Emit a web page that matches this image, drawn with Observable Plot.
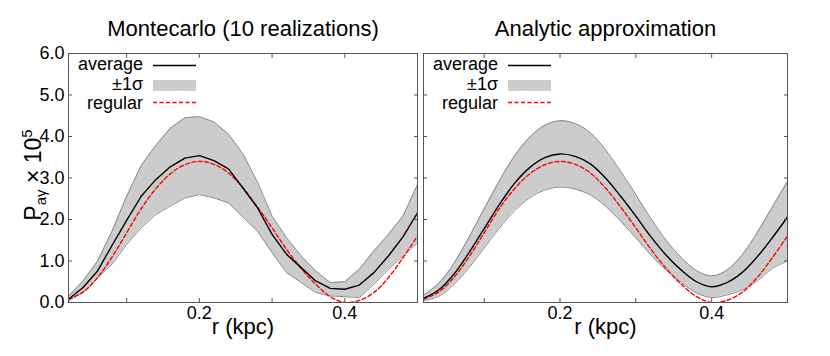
<!DOCTYPE html>
<html><head><meta charset="utf-8">
<script src="https://cdn.jsdelivr.net/npm/d3@7"></script>
<script src="https://cdn.jsdelivr.net/npm/@observablehq/plot@0.6"></script>
<style>
body{margin:0;background:#fff;}
#chart{position:relative;width:830px;height:356px;overflow:hidden;background:#fff;font-family:"Liberation Sans",Arial,sans-serif;}
#chart svg{position:absolute;left:0;top:0;}
</style></head><body><div id="chart"></div>
<script>
// ---- data ----
const r = [0.02,0.04,0.06,0.08,0.10,0.12,0.14,0.16,0.18,0.20,0.22,0.24,0.26,0.28,0.30,0.32,0.34,0.36,0.38,0.40,0.42,0.44,0.46,0.48,0.50];
const mcAvg = [0.08,0.36,0.76,1.38,1.98,2.56,2.96,3.27,3.48,3.54,3.42,3.22,2.76,2.28,1.64,1.16,0.84,0.52,0.34,0.32,0.42,0.72,1.12,1.58,2.16];
const mcHi  = [0.15,0.52,1.00,1.72,2.56,3.30,3.78,4.20,4.45,4.48,4.35,4.06,3.58,2.90,2.08,1.56,1.12,0.76,0.48,0.50,0.80,1.24,1.64,2.08,2.84];
const mcLo  = [0.04,0.24,0.60,0.92,1.40,1.80,2.12,2.32,2.52,2.60,2.52,2.40,2.06,1.72,1.20,0.72,0.48,0.24,0.16,0.14,0.12,0.44,0.80,1.12,1.44];
const regular = [0.08,0.25,0.60,1.10,1.68,2.26,2.74,3.10,3.32,3.40,3.33,3.12,2.76,2.30,1.80,1.28,0.82,0.44,0.14,0.00,0.05,0.24,0.60,1.08,1.60];
const anAvg = [0.10,0.30,0.68,1.20,1.78,2.36,2.87,3.25,3.49,3.58,3.52,3.34,3.00,2.56,2.08,1.58,1.14,0.78,0.50,0.38,0.48,0.72,1.10,1.56,2.06];
const anHi  = [0.18,0.46,0.94,1.57,2.26,2.93,3.53,3.98,4.27,4.38,4.31,4.09,3.68,3.16,2.60,2.02,1.50,1.08,0.77,0.64,0.78,1.14,1.68,2.30,2.92];
const anLo  = [0.04,0.15,0.43,0.84,1.31,1.79,2.21,2.52,2.71,2.78,2.73,2.59,2.32,1.96,1.56,1.14,0.78,0.48,0.23,0.12,0.18,0.30,0.52,0.82,1.00];
const panelTitles = ["Montecarlo (10 realizations)", "Analytic approximation"];
const xLabel = "r (kpc)";
const yTicks = [0,1,2,3,4,5,6];
const xTicks = [0.1,0.2,0.3,0.4];
const xTickLabels = [0.2,0.4];
const legendLabels = ["average", "±1σ", "regular"];

const W = 830, H = 356;
const host = document.getElementById("chart");

function panel({avg, hi, lo, title, mLeft, mRight, showYLabels, curve}) {
  const data = r.map((v,i)=>({r:v, avg:avg[i], hi:hi[i], lo:lo[i], reg:regular[i]}));
  const tickStroke = "#555";
  const marks = [
    Plot.areaY(data,{x:"r", y1:"lo", y2:"hi", fill:"#cccccc", curve, clip:true}),
    Plot.lineY(data,{x:"r", y:"hi", stroke:"#8a8a8a", strokeWidth:1, curve, clip:true}),
    Plot.lineY(data,{x:"r", y:"lo", stroke:"#8a8a8a", strokeWidth:1, curve, clip:true}),
    Plot.lineY(data,{x:"r", y:"reg", stroke:"#ff0000", strokeWidth:1.4, strokeDasharray:"4,2.5", curve:"catmull-rom", clip:true}),
    Plot.lineY(data,{x:"r", y:"avg", stroke:"#000", strokeWidth:1.4, curve, clip:true}),
    Plot.frame({stroke:"#555", strokeWidth:1}),
    Plot.axisY(yTicks,{anchor:"left", tickSize:4, dx:4, fill:"none", stroke:tickStroke, label:null}),
    Plot.axisY(yTicks,{anchor:"right", tickSize:4, dx:-4, fill:"none", stroke:tickStroke, label:null}),
    Plot.axisX(xTicks,{anchor:"bottom", tickSize:4, dy:-4, fill:"none", stroke:tickStroke, label:null}),
    Plot.axisX(xTicks,{anchor:"top", tickSize:4, dy:4, fill:"none", stroke:tickStroke, label:null}),
    Plot.axisX(xTickLabels,{anchor:"bottom", tickSize:0, tickPadding:4, tickFormat:d=>d.toFixed(1), label:null, fontSize:18, fill:"#000"}),
    Plot.text([title],{text:d=>d, frameAnchor:"top", dy:-18, lineAnchor:"bottom", fontSize:22, fill:"#000"}),
    Plot.text([xLabel],{text:d=>d, frameAnchor:"bottom", dy:31, lineAnchor:"bottom", fontSize:22, fill:"#000"})
  ];
  if (showYLabels) marks.push(Plot.axisY(yTicks,{anchor:"left", tickSize:0, tickPadding:4, tickFormat:d=>d.toFixed(1), label:null, fontSize:18, fill:"#000"}));
  const svg = Plot.plot({
    width: W, height: H,
    marginLeft: mLeft, marginRight: mRight, marginTop: 53, marginBottom: 54,
    x: {domain:[0.02,0.5]},
    y: {domain:[0,6]},
    style: {background:"transparent", fontFamily:"Liberation Sans, Arial, sans-serif", overflow:"visible"},
    marks
  });
  // legend
  const s = d3.select(svg);
  const fx = mLeft;
  const g = s.append("g").attr("font-family","Liberation Sans, Arial, sans-serif").attr("font-size",18);
  const base = [70, 90, 109];
  legendLabels.forEach((t,i)=>{
    g.append("text").attr("x", fx+75).attr("y", base[i]).attr("text-anchor","end").attr("fill","#000").text(t);
  });
  g.append("line").attr("x1",fx+85).attr("x2",fx+128).attr("y1",65.5).attr("y2",65.5).attr("stroke","#000").attr("stroke-width",1.4);
  g.append("rect").attr("x",fx+85).attr("y",80).attr("width",43).attr("height",11).attr("fill","#cccccc");
  g.append("line").attr("x1",fx+85).attr("x2",fx+128).attr("y1",102.5).attr("y2",102.5).attr("stroke","#ff0000").attr("stroke-width",1.4).attr("stroke-dasharray","4,2.5");
  return svg;
}

const left = panel({avg:mcAvg, hi:mcHi, lo:mcLo, title:panelTitles[0], mLeft:68, mRight:W-417, showYLabels:true, curve:"linear"});
const right = panel({avg:anAvg, hi:anHi, lo:anLo, title:panelTitles[1], mLeft:423, mRight:W-787, showYLabels:false, curve:"catmull-rom"});
host.appendChild(left);
host.appendChild(right);

// y axis label with subscript / superscript
const yl = d3.select(left).append("text")
  .attr("transform","translate(41,175) rotate(-90)")
  .attr("text-anchor","middle")
  .attr("font-family","Liberation Sans, Arial, sans-serif")
  .attr("font-size",23).attr("fill","#000");
yl.append("tspan").text("P");
yl.append("tspan").attr("font-size",15).attr("dy",5).text("aγ");
yl.append("tspan").attr("dy",-5).text(" × 10");
yl.append("tspan").attr("font-size",15).attr("dy",-9).text("5");
</script></body></html>
